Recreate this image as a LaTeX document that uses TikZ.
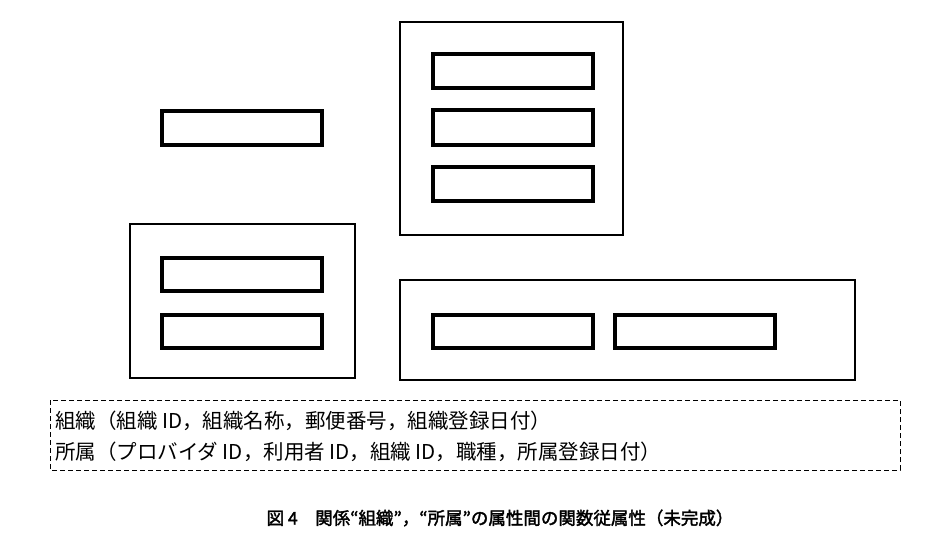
\documentclass[tikz,border=0pt]{standalone}
\usepackage{fontspec}
\newfontfamily\cjk{Noto Sans CJK JP}
\newfontfamily\cjkb{Noto Sans CJK JP}[FakeBold=2]
\begin{document}
\begin{tikzpicture}[x=1pt,y=-1pt,
  thick box/.style={draw,line width=3.4pt},
  cont/.style={draw,line width=1.2pt}]
\useasboundingbox (0,0) rectangle (935,550);
\draw[thick box] (162,111) rectangle (322,145);
\draw[cont] (400,22) rectangle (623,235);
\draw[thick box] (433,54) rectangle (593,88);
\draw[thick box] (433,110) rectangle (593,145);
\draw[thick box] (433,167) rectangle (593,201);
\draw[cont] (130,224) rectangle (355,378);
\draw[thick box] (162,258) rectangle (322,291);
\draw[thick box] (162,315) rectangle (322,348);
\draw[cont] (400,280) rectangle (855,380);
\draw[thick box] (433,315) rectangle (593,348);
\draw[thick box] (615,315) rectangle (775,348);
\draw[line width=1pt,dash pattern=on 5pt off 3pt] (50,400) rectangle (900,470);
\node[anchor=west,inner sep=0,font=\cjk\fontsize{20.5}{24}\selectfont] (l1) at (55,421) {組織（組織 ID，組織名称，郵便番号，組織登録日付）};
\node[anchor=west,inner sep=0,font=\cjk\fontsize{20.5}{24}\selectfont] (l2) at (55,452) {所属（プロバイダ ID，利用者 ID，組織 ID，職種，所属登録日付）};
\node[inner sep=0,font=\cjkb\fontsize{17.5}{20}\selectfont] (cap) at (500,518) {図 4\quad 関係“組織”，“所属”の属性間の関数従属性（未完成）};
\end{tikzpicture}
\end{document}
